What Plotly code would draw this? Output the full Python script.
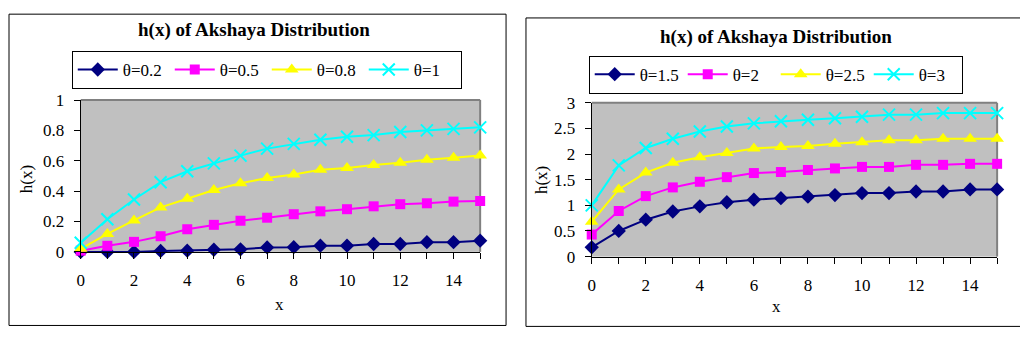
import plotly.graph_objects as go

x = list(range(16))

# Left panel: theta = 0.2, 0.5, 0.8, 1
left_names = ["θ=0.2", "θ=0.5", "θ=0.8", "θ=1"]
h_02 = [0.0, 0.0, 0.0, 0.006, 0.008, 0.014, 0.017, 0.029, 0.031, 0.041, 0.041, 0.052, 0.052, 0.064, 0.064, 0.074]
h_05 = [0.008, 0.04, 0.066, 0.103, 0.149, 0.178, 0.205, 0.225, 0.248, 0.267, 0.281, 0.30, 0.314, 0.32, 0.331, 0.335]
h_08 = [0.02, 0.118, 0.207, 0.293, 0.35, 0.407, 0.452, 0.486, 0.51, 0.541, 0.552, 0.572, 0.587, 0.607, 0.62, 0.634]
h_10 = [0.06, 0.215, 0.345, 0.459, 0.531, 0.583, 0.634, 0.68, 0.711, 0.738, 0.758, 0.769, 0.789, 0.80, 0.81, 0.82]

# Right panel: theta = 1.5, 2, 2.5, 3
right_names = ["θ=1.5", "θ=2", "θ=2.5", "θ=3"]
h_15 = [0.18, 0.50, 0.72, 0.88, 0.98, 1.06, 1.11, 1.14, 1.17, 1.20, 1.24, 1.24, 1.27, 1.27, 1.31, 1.31]
h_20 = [0.43, 0.89, 1.18, 1.35, 1.46, 1.55, 1.63, 1.65, 1.69, 1.72, 1.75, 1.75, 1.79, 1.79, 1.81, 1.81]
h_25 = [0.68, 1.31, 1.64, 1.83, 1.94, 2.02, 2.11, 2.14, 2.16, 2.20, 2.23, 2.27, 2.27, 2.30, 2.30, 2.30]
h_30 = [1.0, 1.78, 2.12, 2.30, 2.44, 2.54, 2.60, 2.64, 2.67, 2.70, 2.73, 2.77, 2.77, 2.80, 2.80, 2.80]

title_text = "h(x) of Akshaya Distribution"
x_title = "x"
y_title = "h(x)"

# The page body has an 8px margin, so the figure is drawn 8px in from the top-left;
# positions below are given in window pixels and shifted back by that margin.
OFF = 8
W, H = 1028 - OFF, 343 - OFF
FONT = "Liberation Serif, Times New Roman, serif"

colors = ["#000080", "#FF00FF", "#FFFF00", "#00FFFF"]
symbols = ["diamond", "square", "triangle-up", "x-thin-open"]
sizes = [11, 10, 12, 12]

def px(v):
    return (v - OFF) / W

def py(v):
    return 1 - (v - OFF) / H

fig = go.Figure()

left_series = [h_02, h_05, h_08, h_10]
right_series = [h_15, h_20, h_25, h_30]

def add_series(names, series, xa, ya, leg):
    for i, (nm, ys) in enumerate(zip(names, series)):
        fig.add_trace(go.Scatter(
            x=x, y=ys, name=nm, mode="lines+markers", xaxis=xa, yaxis=ya,
            legend=leg, cliponaxis=False,
            line=dict(color=colors[i], width=2),
            marker=dict(symbol=symbols[i], size=sizes[i], color=colors[i],
                        line=dict(color=colors[i], width=2 if i == 3 else 0)),
        ))

add_series(left_names, left_series, "x", "y", "legend")
add_series(right_names, right_series, "x2", "y2", "legend2")

TICKFONT = dict(family=FONT, size=17, color="black")

axis_common = dict(
    showgrid=False, zeroline=False, showline=True, linecolor="black", linewidth=1,
    ticks="outside", ticklen=6, tickcolor="black", tickwidth=1,
    tickfont=TICKFONT,
)

xa = dict(axis_common, range=[0, 15], tick0=0, dtick=2,
          minor=dict(dtick=1, ticks="outside", ticklen=6, tickcolor="black", showgrid=False),
          ticklabelstandoff=7)

legend_common = dict(orientation="h", xanchor="left", yanchor="top",
                     bgcolor="white", bordercolor="black", borderwidth=1,
                     font=dict(family=FONT, size=17, color="black"),
                     itemwidth=40, tracegroupgap=0)

fig.update_layout(
    width=W, height=H,
    margin=dict(l=0, r=0, t=0, b=0),
    paper_bgcolor="white",
    plot_bgcolor="#C0C0C0",
    showlegend=True,
    xaxis=dict(xa, domain=[px(77), px(478)], anchor="y"),
    yaxis=dict(axis_common, domain=[py(257), py(96)], anchor="x", range=[0, 1], dtick=0.2,
               tickformat="~g", ticklabelstandoff=6),
    xaxis2=dict(xa, domain=[px(590), px(997)], anchor="y2"),
    yaxis2=dict(axis_common, domain=[py(262), py(99)], anchor="x2", range=[0, 3], dtick=0.5,
                tickformat="~g", ticklabelstandoff=6),
    legend=dict(legend_common, x=px(68), y=py(44), entrywidth=42),
    legend2=dict(legend_common, x=px(587), y=py(49), entrywidth=38),
)

def ann(text, xp, yp, size=17, angle=0):
    fig.add_annotation(text=text, x=px(xp), y=py(yp), xref="paper", yref="paper",
                       xanchor="center", yanchor="middle", showarrow=False, textangle=angle,
                       font=dict(family=FONT, size=size, color="black"))

# panel titles
ann("<b>%s</b>" % title_text, 251, 22, size=19)
ann("<b>%s</b>" % title_text, 775, 29, size=19)
# axis titles
ann(x_title, 277, 313)
ann(x_title, 776, 315)
ann(y_title, 22, 180, angle=-90)
ann(y_title, 539, 181, angle=-90)

# outer borders
fig.add_shape(type="rect", xref="paper", yref="paper", x0=px(5), x1=px(504), y0=py(335), y1=py(5),
              line=dict(color="black", width=1), layer="below")
fig.add_shape(type="rect", xref="paper", yref="paper", x0=px(524), x1=px(1024), y0=py(336), y1=py(9),
              line=dict(color="black", width=1), layer="below")

# grey plot-area frame (top and right)
for xr, yr in (("x domain", "y domain"), ("x2 domain", "y2 domain")):
    fig.add_shape(type="line", xref=xr, yref=yr, x0=0, x1=1, y0=1, y1=1,
                  line=dict(color="#808080", width=2), layer="below")
    fig.add_shape(type="line", xref=xr, yref=yr, x0=1, x1=1, y0=0, y1=1,
                  line=dict(color="#808080", width=2), layer="below")

fig.write_html("out.html", config={"displayModeBar": False})
